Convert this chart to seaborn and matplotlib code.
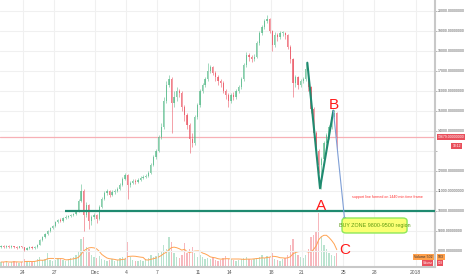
import numpy as np
import pandas as pd
import matplotlib
matplotlib.use("Agg")
import matplotlib.pyplot as plt
from matplotlib.patches import FancyBboxPatch
import seaborn as sns

# ---------------- data (6h candles, day offset from Nov 24 2017) ----------------
start_day = -2.25
step = 0.25
closes = [8250,
          8200, 8250, 8180, 8220,
          8200, 8150, 8220, 8180,
          8050, 8150, 8180, 8150,
          8170, 8300, 8550, 8700,
          8850, 9000, 9150, 9250,
          9450, 9550, 9500, 9650,
          9700, 9750, 9800, 9850,
          10000, 10500, 11000, 9800,
          10300, 9500, 9700, 9800,
          9600, 10200, 10600, 10900,
          11000, 10800, 10950, 11000,
          11100, 11300, 11600, 11800,
          11300, 11400, 11500, 11450,
          11550, 11650, 11700, 11750,
          11900, 12300, 12700, 13000,
          13700, 14200, 15500, 16300,
          16600, 15400, 15700, 16000,
          15900, 15200, 14800, 14300,
          13600, 13400, 14700, 15300,
          16000, 16300, 16600, 17000,
          17200, 16900, 16700, 16500,
          16400, 16000, 15800, 15500,
          15800, 15700, 16000, 16200,
          16600, 17300, 17800, 17700,
          17600, 17700, 18400, 18900,
          19200, 19500, 19600, 19000,
          18300, 18800, 18700, 18900,
          18900, 18800, 18200, 17600,
          16400, 16700, 16300, 16500,
          16600, 17100, 16200, 15100,
          13900, 13000, 12300, 12600,
          13400, 13800, 14200, 14700,
          14900, 13679]
highs = [8300,
         8300, 8300, 8280, 8270,
         8260, 8240, 8260, 8250,
         8200, 8180, 8220, 8220,
         8220, 8350, 8600, 8750,
         8900, 9050, 9200, 9300,
         9500, 9600, 9620, 9700,
         9780, 9800, 9850, 9900,
         10050, 10600, 11350, 11100,
         10450, 10350, 9800, 9900,
         9850, 10300, 10700, 11000,
         11100, 11050, 11050, 11100,
         11200, 11400, 11700, 11900,
         11850, 11500, 11600, 11600,
         11650, 11750, 11800, 11850,
         12000, 12400, 12800, 13100,
         13800, 14400, 15700, 16500,
         16800, 16700, 16000, 16200,
         16100, 16000, 15300, 14900,
         14400, 13900, 14800, 15400,
         16100, 16400, 16700, 17400,
         17300, 17250, 17000, 16800,
         16600, 16500, 16100, 15900,
         15900, 15950, 16100, 16300,
         16700, 17400, 17950, 17900,
         17800, 17850, 18500, 19000,
         19300, 19600, 19800, 19650,
         19050, 18950, 18900, 19000,
         19000, 18950, 18850, 18300,
         17650, 16800, 16750, 16600,
         16700, 17400, 17150, 16250,
         15200, 14000, 13100, 12700,
         13500, 13900, 14300, 14800,
         15050, 14950]
lows = [8150,
        8150, 8150, 8120, 8140,
        8150, 8100, 8120, 8130,
        8000, 8020, 8100, 8100,
        8100, 8150, 8280, 8500,
        8650, 8800, 8950, 9100,
        9200, 9400, 9420, 9450,
        9600, 9650, 9700, 9750,
        9800, 9950, 10450, 9000,
        9700, 9100, 9300, 9600,
        9400, 9550, 10150, 10550,
        10800, 10700, 10750, 10850,
        10950, 11050, 11250, 11550,
        10600, 11200, 11350, 11350,
        11400, 11500, 11600, 11650,
        11700, 11850, 12250, 12600,
        12950, 13600, 14100, 15400,
        16200, 13900, 15200, 15500,
        15700, 15000, 14500, 14100,
        12900, 13200, 13300, 14600,
        15200, 15900, 16200, 16500,
        16900, 16800, 16500, 16300,
        16200, 15900, 15600, 15200,
        15400, 15550, 15600, 15900,
        16100, 16500, 17200, 17500,
        17450, 17500, 17650, 18300,
        18800, 19100, 19400, 18900,
        18000, 18200, 18500, 18600,
        18750, 18600, 18100, 17400,
        15700, 16200, 16100, 16200,
        16400, 16500, 16000, 14900,
        13700, 12800, 11900, 11100,
        12500, 13200, 13600, 14100,
        14600, 13000]
volumes = [5,
           5, 6, 4, 5,
           6, 5, 4, 5,
           8, 6, 5, 5,
           6, 8, 10, 7,
           8, 14, 7, 6,
           7, 9, 8, 7,
           6, 8, 9, 10,
           12, 16, 28, 30,
           20, 18, 12, 10,
           9, 11, 8, 7,
           6, 7, 8, 6,
           7, 9, 10, 8,
           25, 10, 7, 6,
           6, 7, 6, 8,
           9, 12, 10, 11,
           14, 16, 22, 18,
           30, 25, 14, 10,
           9, 12, 24, 14,
           18, 20, 14, 10,
           12, 10, 8, 9,
           8, 10, 7, 6,
           7, 9, 11, 8,
           8, 7, 6, 7,
           8, 9, 10, 8,
           7, 8, 9, 10,
           12, 9, 11, 10,
           14, 8, 7, 6,
           8, 9, 12, 22,
           28, 16, 12, 10,
           9, 12, 18, 30,
           32, 36, 54, 30,
           22, 18, 14, 12,
           11, 14]

tick_days = [0, 3, 7, 10, 13, 17, 20, 24, 27, 31, 34, 38]
tick_labels = ["24", "27", "Dec", "4", "7", "11", "14", "18", "21", "25", "28", "2018"]
price_ticks = [8000, 9000, 10000, 11000, 12000, 13000, 14000, 15000,
               16000, 17000, 18000, 19000, 20000]

support_level = 10000
last_price = 13679
v_days = [27.52, 28.75, 30.04]
v_prices = [17400, 11120, 15000]
arrow_days = [30.04, 31.15]
arrow_prices = [15000, 9480]

# ---------------- frame ----------------
n = len(closes)
opens = [closes[0] - 50] + closes[:-1]
df = pd.DataFrame({
    "day": [start_day + step * i + step / 2 for i in range(n)],
    "open": opens, "close": closes, "high": highs, "low": lows, "volume": volumes,
})
df["up"] = df["close"] >= df["open"]
df["vol_ma"] = df["volume"].rolling(7, min_periods=1).mean()

sns.set_style("white")
plt.rcParams["font.family"] = ["Liberation Sans", "DejaVu Sans"]
NARROW = ["Liberation Sans Narrow", "Liberation Sans", "DejaVu Sans"]

W, H = 466, 275
fig = plt.figure(figsize=(W / 100, H / 100), dpi=100)
ax = fig.add_axes([0, 1 - 267 / H, 435 / W, 267 / H])

x0, x1 = -2.227, 39.88
y0, y1 = 7185, 20535
ax.set_xlim(x0, x1)
ax.set_ylim(y0, y1)

# grid
for p in price_ticks:
    ax.axhline(p, color="#f0f0f0", lw=0.8, zorder=0)
for d in tick_days:
    ax.axvline(d, color="#f0f0f0", lw=0.8, zorder=0)

up_c, dn_c = "#53b987", "#eb4d5c"

# volume on twin axis
axv = ax.twinx()
axv.set_ylim(0, 267)
axv.set_xlim(x0, x1)
vcols = [up_c if u else dn_c for u in df["up"]]
axv.bar(df["day"], df["volume"], width=0.13, color=vcols, alpha=0.4, zorder=1, linewidth=0)
sns.lineplot(x=df["day"], y=df["vol_ma"], ax=axv, color="#ffa352", lw=0.7, zorder=2)
axv.set_yticks([])
axv.set_ylabel("")
axv.set_xlabel("")
for s in axv.spines.values():
    s.set_visible(False)

ax.set_zorder(axv.get_zorder() + 1)
ax.patch.set_visible(False)

# candles
ccols = [up_c if u else dn_c for u in df["up"]]
ax.vlines(df["day"], df["low"], df["high"], colors=ccols, lw=0.5, alpha=0.75, zorder=3)
body_bottom = np.minimum(df["open"], df["close"])
body_h = np.maximum(np.abs(df["close"] - df["open"]), 30)
ax.bar(df["day"], body_h, bottom=body_bottom, width=0.12, color=ccols, alpha=0.7,
       linewidth=0, zorder=3)

# last price line
ax.axhline(last_price, color="#f7b0b6", lw=0.9, zorder=2)

# support line
ax.plot([(65 - 23) / 10.33, x1], [support_level, support_level], color="#1f8a70",
        lw=1.6, zorder=5, solid_capstyle="butt")

# green V
ax.plot(v_days, v_prices, color="#1f8a70", lw=1.5, zorder=5)

# arrow to buy zone
ax.annotate("", xy=(arrow_days[1], arrow_prices[1]), xytext=(arrow_days[0], arrow_prices[0]),
            arrowprops=dict(arrowstyle="-|>", color="#7f9fd6", lw=0.8,
                            mutation_scale=4, shrinkA=0, shrinkB=0), zorder=6)

# letters
ax.text(30.1, 15300, "B", color="#ff1a1a", fontsize=11, ha="center", va="center", zorder=7)
ax.text(28.85, 10250, "A", color="#ff1a1a", fontsize=11, ha="center", va="center", zorder=7)
ax.text(31.16, 8040, "C", color="#ff1a1a", fontsize=11, ha="center", va="center", zorder=7)

ax.text(31.8, 10680, "support line formed on 1440 min time frame", color="#ff3030",
        fontsize=2.6, ha="left", va="center", zorder=7)

# buy zone box
bx0, bx1 = (342 - 23) / 10.33, (407 - 23) / 10.33
by0, by1 = 20000 - (233 - 10.7) * 50, 20000 - (218 - 10.7) * 50
box = FancyBboxPatch((bx0, by0), bx1 - bx0, by1 - by0,
                     boxstyle="round,pad=0,rounding_size=0.4",
                     fc="#fbff73", ec="#8fe85a", lw=1.0, zorder=7,
                     mutation_aspect=(by1 - by0) / (bx1 - bx0) * 3)
ax.add_patch(box)
ax.text((bx0 + bx1) / 2, (by0 + by1) / 2, "BUY ZONE 9800-9500 region", color="#5c9a10",
        fontsize=3.9, ha="center", va="center", zorder=8, family=NARROW)

# axes styling
ax.yaxis.tick_right()
ax.set_yticks(price_ticks)
ax.set_yticklabels(["" if p == 13000 else f"{p}.00000000" for p in price_ticks])
ax.set_xticks(tick_days)
ax.set_xticklabels(tick_labels)
ax.tick_params(axis="y", labelsize=2.5, labelcolor="#555555", length=1.2, width=0.5,
               color="#999999", pad=1.0)
ax.tick_params(axis="x", labelsize=3.6, labelcolor="#555555", length=0, pad=2.5)
for k in ["top", "left"]:
    ax.spines[k].set_visible(False)
for k in ["right", "bottom"]:
    ax.spines[k].set_color("#c8c8c8")
    ax.spines[k].set_linewidth(1.5)

# price label boxes
ax.text(1.006, (last_price - y0) / (y1 - y0), "13679.00000000", transform=ax.transAxes,
        fontsize=2.5, color="white", ha="left", va="center", zorder=10,
        bbox=dict(boxstyle="square,pad=0.3", fc="#e9505c", ec="none"))
ax.text(1.04, (last_price - 430 - y0) / (y1 - y0), "18:12", transform=ax.transAxes,
        fontsize=2.4, color="white", ha="left", va="center", zorder=10,
        bbox=dict(boxstyle="square,pad=0.3", fc="#e9505c", ec="none"))

# volume labels
ax.text(0.995, 10 / 267, "Volume 502", transform=ax.transAxes, fontsize=2.5, color="#333333",
        ha="right", va="center", zorder=10,
        bbox=dict(boxstyle="square,pad=0.3", fc="#ff9f4a", ec="none"))
ax.text(1.006, 10 / 267, "503", transform=ax.transAxes, fontsize=2.5, color="#333333",
        ha="left", va="center", zorder=10,
        bbox=dict(boxstyle="square,pad=0.3", fc="#ff9f4a", ec="none"))
ax.text(0.995, 4 / 267, "Volume", transform=ax.transAxes, fontsize=2.2, color="white",
        ha="right", va="center", zorder=9,
        bbox=dict(boxstyle="square,pad=0.2", fc="#e9505c", ec="none"))
ax.text(1.006, 4 / 267, "503", transform=ax.transAxes, fontsize=2.2, color="white",
        ha="left", va="center", zorder=9,
        bbox=dict(boxstyle="square,pad=0.2", fc="#e9505c", ec="none"))

fig.savefig("out.png", dpi=100)
